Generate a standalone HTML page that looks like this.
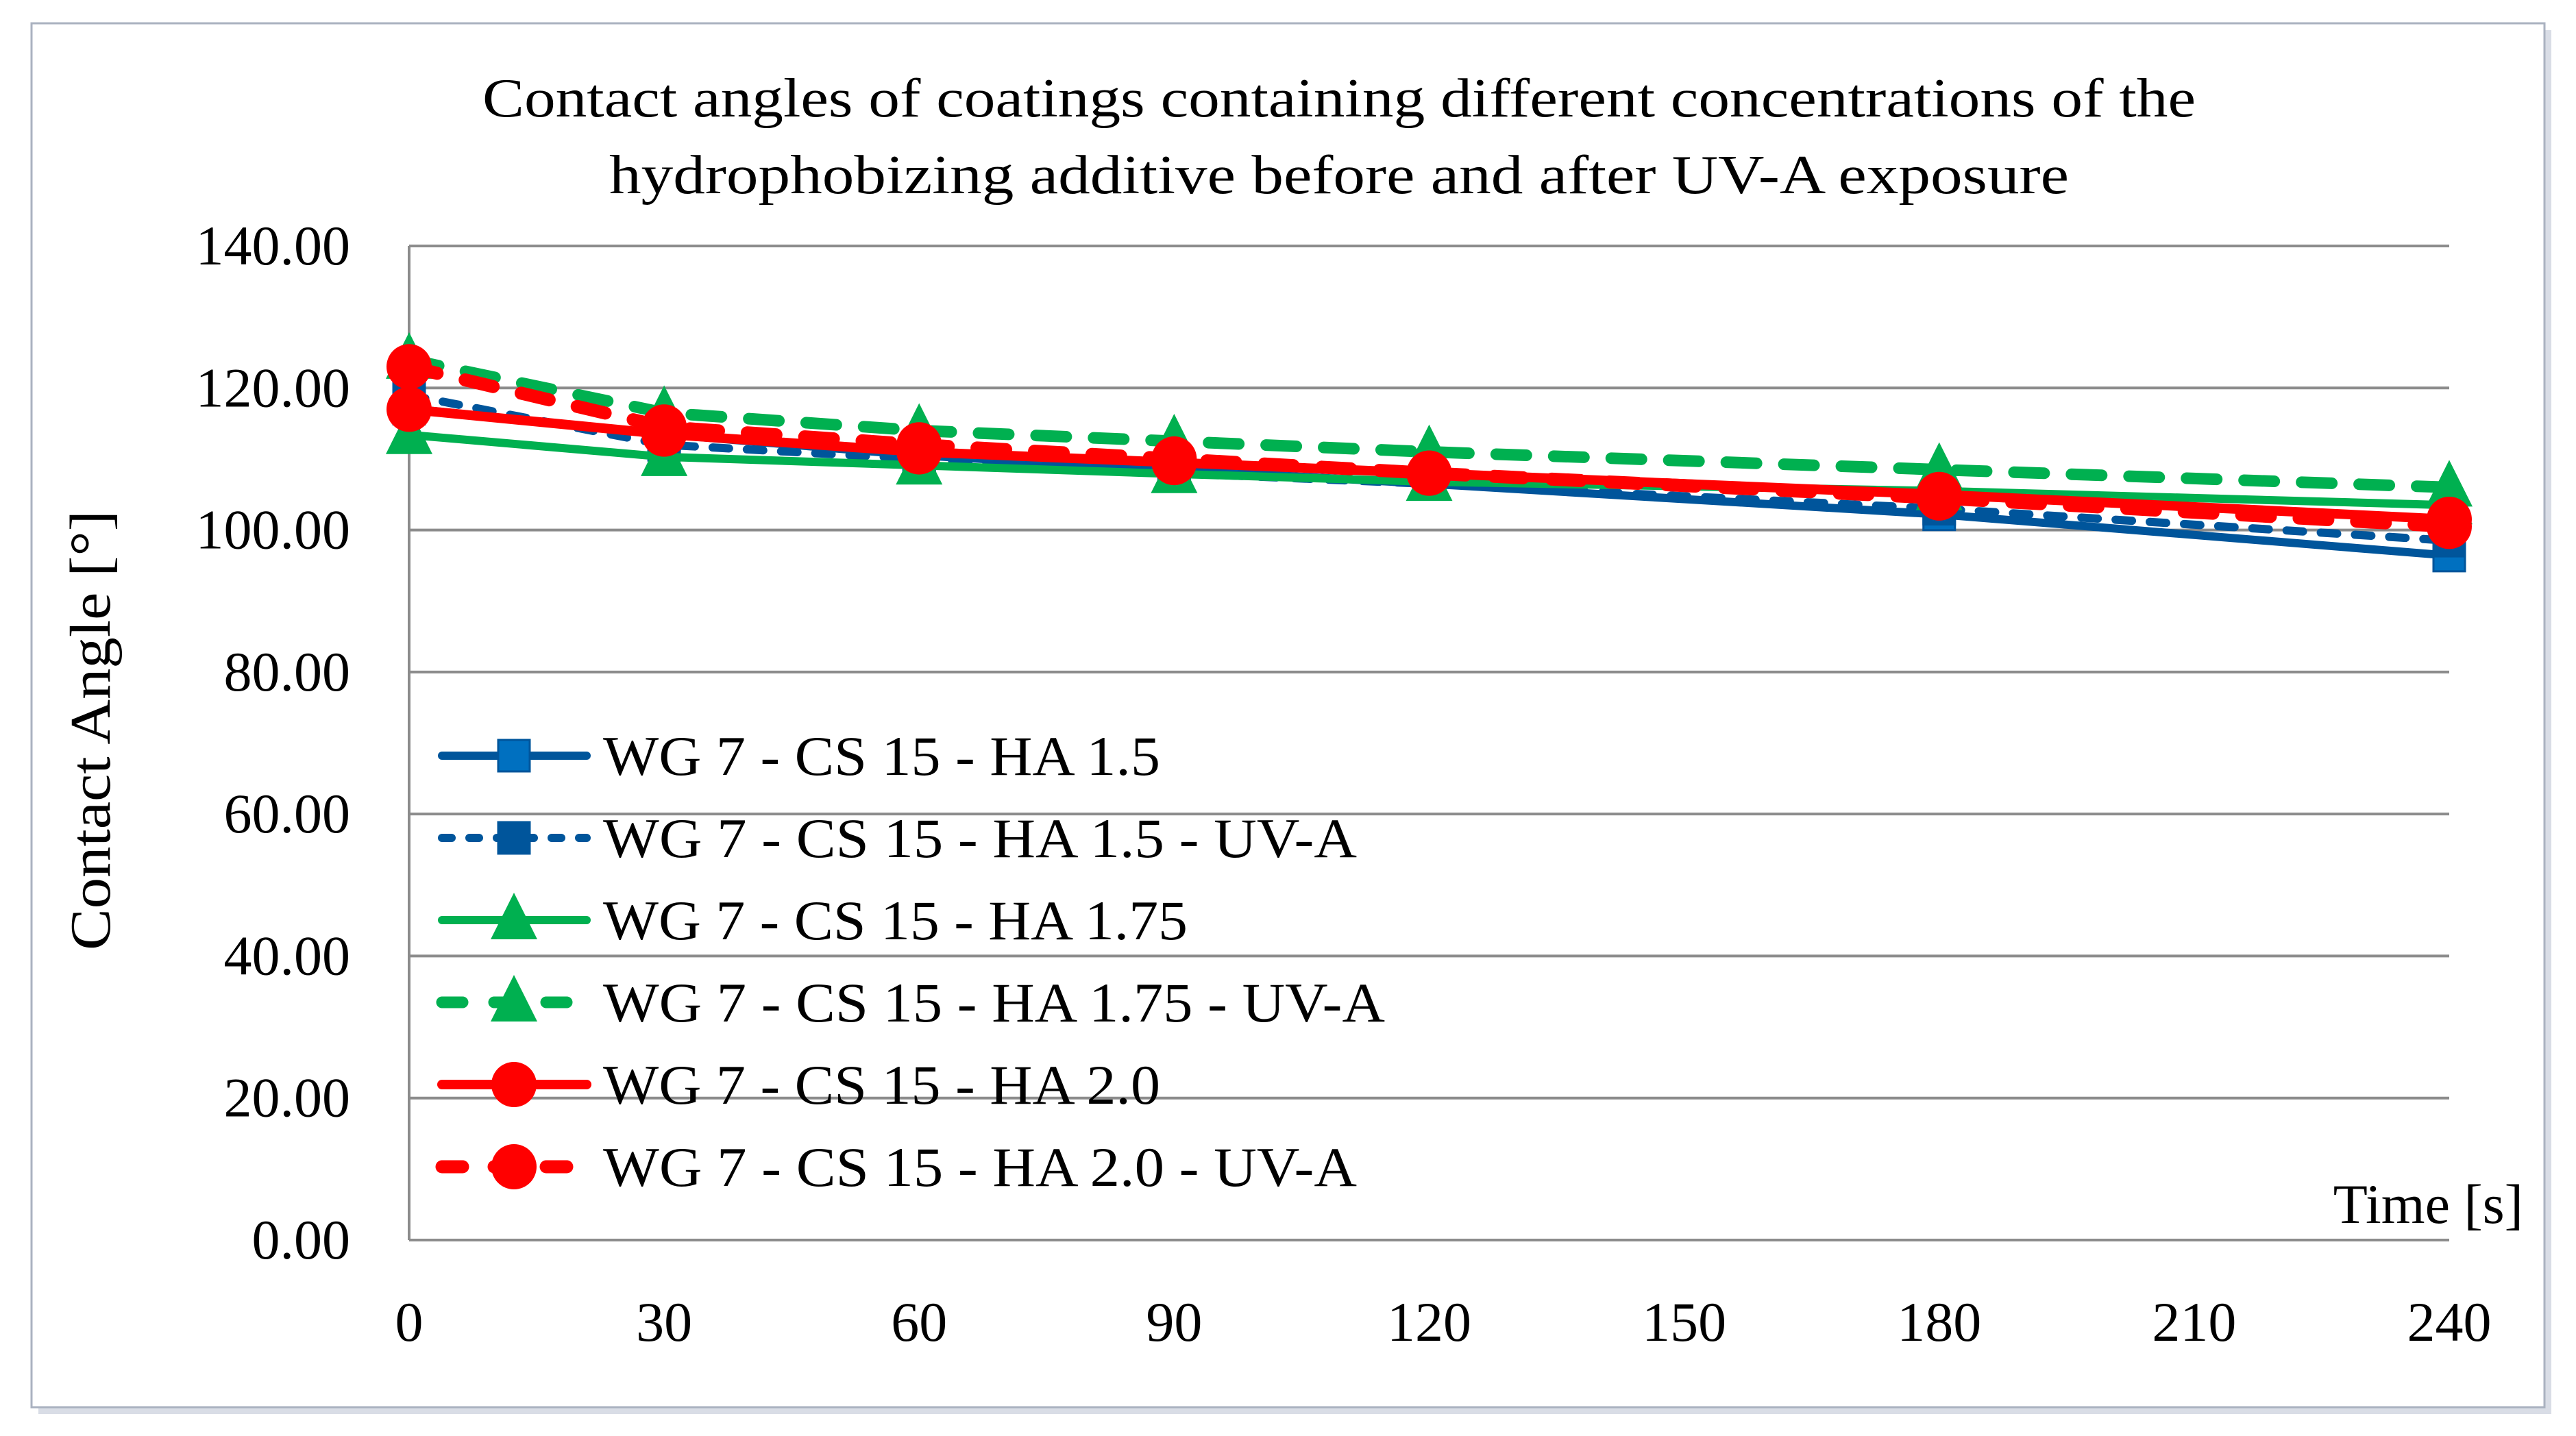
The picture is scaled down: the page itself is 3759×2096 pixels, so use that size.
<!DOCTYPE html>
<html><head><meta charset="utf-8"><style>
html,body{margin:0;padding:0;background:#fff;}
svg{display:block;font-family:"Liberation Serif",serif;}
</style></head><body>
<svg id="chart" width="3759" height="2096" viewBox="0 0 3759 2096">
<rect x="56" y="44" width="3667" height="2020" fill="#d9dde6"/>
<rect x="46" y="34" width="3667" height="2020" fill="#fff" stroke="#aab2c0" stroke-width="3"/>
<text x="1954" y="170" font-size="80" text-anchor="middle" textLength="2500" lengthAdjust="spacingAndGlyphs">Contact angles of coatings containing different concentrations of the</text>
<text x="1954" y="282" font-size="80" text-anchor="middle" textLength="2130" lengthAdjust="spacingAndGlyphs">hydrophobizing additive before and after UV-A exposure</text>
<g id="grid"></g>
<g id="series"></g>
<g id="legend"></g>
<text transform="translate(160,1066) rotate(-90)" font-size="84" text-anchor="middle" textLength="642" lengthAdjust="spacingAndGlyphs">Contact Angle [°]</text>
<text x="3682" y="1785" font-size="82" text-anchor="end">Time [s]</text>
</svg>
<script>
const categories = [0, 30, 60, 90, 120, 180, 240];
const xTicks = [0, 30, 60, 90, 120, 150, 180, 210, 240];
const yTicks = [0, 20, 40, 60, 80, 100, 120, 140];
const seriesNames = ["WG 7 - CS 15 - HA 1.5","WG 7 - CS 15 - HA 1.5 - UV-A","WG 7 - CS 15 - HA 1.75","WG 7 - CS 15 - HA 1.75 - UV-A","WG 7 - CS 15 - HA 2.0","WG 7 - CS 15 - HA 2.0 - UV-A"];
const ha15 = [117.1, 113.5, 110.5, 108.5, 106.5, 102.2, 96.4];
const ha15uv = [119, 112, 110, 108, 106.5, 103, 98.5];
const ha175 = [113.4, 110.3, 109.1, 107.9, 106.8, 105.5, 103.5];
const ha175uv = [124, 116.5, 114, 112.5, 111, 108.5, 106];
const ha20 = [117, 113.5, 111, 109.5, 108, 105, 101.5];
const ha20uv = [123, 114.5, 112, 110, 108, 104.5, 100.5];

const NS = "http://www.w3.org/2000/svg";
const X0 = 597, X1 = 3574, Y0 = 1810, Y1 = 359;
const xs = v => X0 + (v - 0) / 240 * (X1 - X0);
const ys = v => Y0 - v / 140 * (Y0 - Y1);
function mk(tag, attrs, parent){ const e = document.createElementNS(NS, tag); for (const k in attrs) e.setAttribute(k, attrs[k]); parent.appendChild(e); return e; }

const grid = document.getElementById('grid');
yTicks.forEach(t => {
  const l = mk('line', {x1: X0, x2: X1, y1: ys(t), y2: ys(t), stroke: '#8c8c8c', 'stroke-width': 4}, grid);
  
  
  const tx = mk('text', {x: 511, y: ys(t) + 27, 'font-size': 82, 'text-anchor': 'end'}, grid);
  tx.textContent = t.toFixed(2);
  
  
});
const ax = mk('line', {x1: X0, x2: X0, y1: Y1, y2: Y0, stroke: '#8c8c8c', 'stroke-width': 4}, grid);


xTicks.forEach(t => {
  const tx = mk('text', {x: xs(t), y: 1957, 'font-size': 82, 'text-anchor': 'middle'}, grid);
  tx.textContent = t;
  
  
});

const styles = [
  {c: '#00559b', mc: '#0070c0', w: 12, dash: '', m: 'square'},
  {c: '#00559b', mc: '#00559b', w: 12, dash: '24 26', m: 'square'},
  {c: '#00b050', mc: '#00b050', w: 12, dash: '', m: 'tri'},
  {c: '#00b050', mc: '#00b050', w: 17, dash: '44 40', m: 'tri'},
  {c: '#ff0000', mc: '#ff0000', w: 14, dash: '', m: 'circle'},
  {c: '#ff0000', mc: '#ff0000', w: 19, dash: '42 42', m: 'circle'}
];
const legendWidths = [813, 1100, 853, 1141, 813, 1100];
const data = [ha15, ha15uv, ha175, ha175uv, ha20, ha20uv];
function marker(kind, cx, cy, color, parent){
  let e;
  if (kind === 'square') e = mk('rect', {x: cx - 23, y: cy - 23, width: 46, height: 46, fill: color, stroke: '#00559b', 'stroke-width': 3}, parent);
  else if (kind === 'tri') e = mk('polygon', {points: `${cx},${cy-40} ${cx+34},${cy+28} ${cx-34},${cy+28}`, fill: color}, parent);
  else e = mk('circle', {cx: cx, cy: cy, r: 33, fill: color}, parent);
  return e;
}
const sg = document.getElementById('series');
data.forEach((vals, i) => {
  const s = styles[i];
  const g = mk('g', {}, sg);
  
  
  const pts = vals.map((v, j) => xs(categories[j]) + ',' + ys(v)).join(' ');
  const pl = mk('polyline', {points: pts, fill: 'none', stroke: s.c, 'stroke-width': s.w, 'stroke-dasharray': s.dash, 'stroke-linejoin': 'round', 'stroke-linecap': s.dash ? 'round' : 'butt'}, g);
  
  
  vals.forEach((v, j) => {
    const mkr = marker(s.m, xs(categories[j]), ys(v), s.mc, g);
    
    
  });
});

const lg = document.getElementById('legend');
seriesNames.forEach((n, i) => {
  const s = styles[i];
  const y = 1103 + i * 120;
  const g = mk('g', {}, lg);
  
  
  mk('line', {x1: 645, x2: 856, y1: y, y2: y, stroke: s.c, 'stroke-width': s.w, 'stroke-dasharray': s.dash ? (i===1 ? '14 26' : '30 46') : '', 'stroke-linecap': 'round'}, g);
  marker(s.m, 750, y, s.mc, g);
  const t = mk('text', {x: 880, y: y + 28, 'font-size': 82, textLength: legendWidths[i], lengthAdjust: 'spacingAndGlyphs'}, g);
  t.textContent = n;
});
</script>
</body></html>
